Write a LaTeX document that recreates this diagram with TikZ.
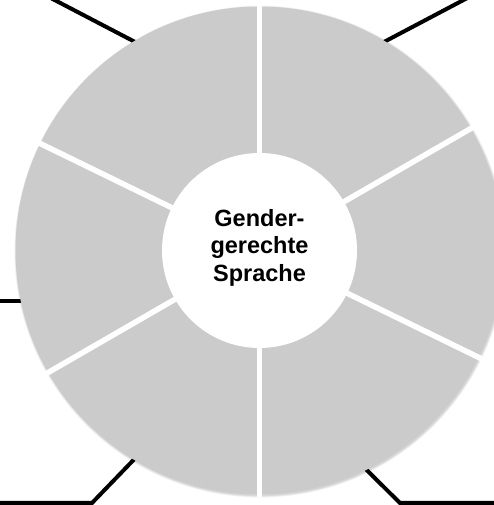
\documentclass[tikz,border=0pt]{standalone}
\usepackage{fontspec}
\setmainfont{Liberation Sans}
\usetikzlibrary{backgrounds}
\definecolor{ringgray}{RGB}{203,203,203}
\tikzset{
    conn/.style={line width=4pt, black, shorten <=-4pt},
    gap/.style={line width=5.5pt, white, shorten >=-3pt},
    disc/.style={circle, inner sep=0pt, outer sep=0pt},
}
\begin{document}
\begin{tikzpicture}[x=1pt, y=1pt]
    \useasboundingbox (0,0) rectangle (494,505);
    \foreach \i in {1,...,4}
        \fill[black, opacity=0.045] (260.3,253.4) circle ({243.5+\i*0.6});
    \node[disc, fill=ringgray, minimum size=488pt] (ring) at (259.5,254.5) {};
    \foreach \a in {90,30,-26,-90,210,154}
        \draw[gap] (ring.center) -- (ring.\a);
    \node[disc, fill=white, minimum size=195pt] (hub) at (ring.center) {};
    \node[align=center, font=\bfseries\fontsize{23.5}{27.5}\selectfont] (title) at ([yshift=3pt]hub.center) {Gender-\\gerechte\\Sprache};
    \coordinate (tlend) at (45,510);
    \coordinate (trend) at (473,510);
    \coordinate (lend) at (-5,202);
    \coordinate (blknee) at (92,2);
    \coordinate (blend) at (-5,2);
    \coordinate (brknee) at (400,2);
    \coordinate (brend) at (500,2);
    \begin{pgfonlayer}{background}
        \draw[conn] (ring.121) -- (tlend);
        \draw[conn] (ring.59) -- (trend);
        \draw[conn] (ring.192.5) -- (ring.192.5 -| lend);
        \draw[conn] (ring.239) -- (blknee) -- (blend);
        \draw[conn] (ring.296) -- (brknee) -- (brend);
    \end{pgfonlayer}
\end{tikzpicture}
\end{document}
